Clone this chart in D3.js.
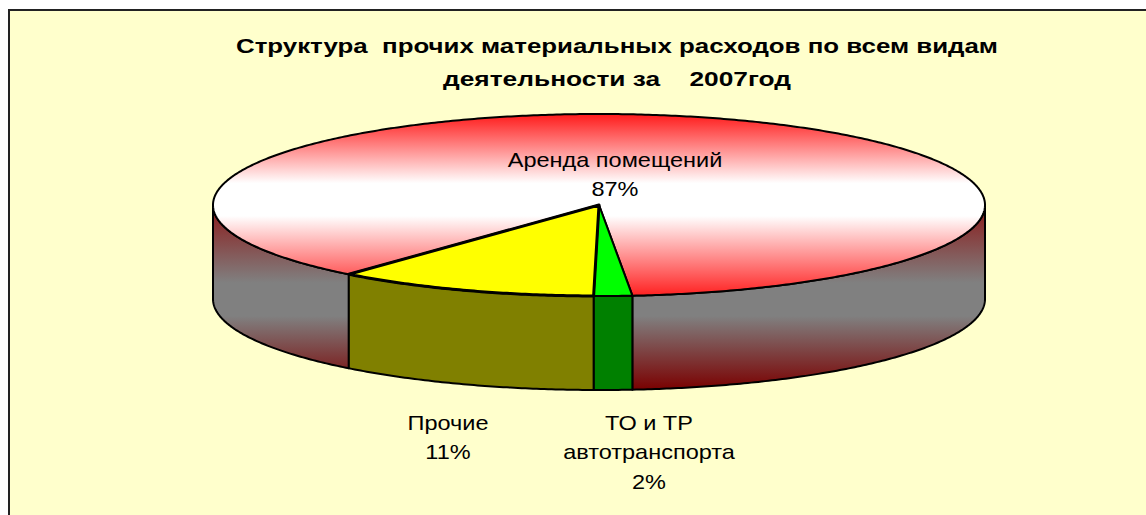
<!DOCTYPE html>
<html>
<head>
<meta charset="utf-8">
<script src="https://cdn.jsdelivr.net/npm/d3@7"></script>
<style>
  html, body { margin: 0; padding: 0; background: #fff; }
  svg { display: block; }
</style>
</head>
<body>
<script>
// data (shares; labels show rounded percents)
var categories = ["Аренда помещений", "ТО и ТР автотранспорта", "Прочие"];
var shares = [87.4, 1.6, 11.0];
var labelLines = [["Аренда помещений"], ["ТО и ТР", "автотранспорта"], ["Прочие"]];
var titleLines = ["Структура  прочих материальных расходов по всем видам", "деятельности за    2007год"];

var w = 1146, h = 515;
var cx = 599, cy = 205, rx = 386, ry = 91, depth = 94;

var svg = d3.select("body").append("svg")
  .attr("width", w).attr("height", h);

var defs = svg.append("defs");

var topGrad = defs.append("linearGradient")
  .attr("id", "redTop")
  .attr("gradientUnits", "userSpaceOnUse")
  .attr("x1", 0).attr("x2", 0)
  .attr("y1", cy - ry).attr("y2", cy + ry);
[[0, "#ff1a1a"], [0.38, "#ffffff"], [0.56, "#ffffff"], [1, "#ff2020"]].forEach(function (s) {
  topGrad.append("stop").attr("offset", s[0]).attr("stop-color", s[1]);
});

var sideGrad = defs.append("linearGradient")
  .attr("id", "redSide")
  .attr("gradientUnits", "userSpaceOnUse")
  .attr("x1", 0).attr("x2", 0)
  .attr("y1", cy).attr("y2", cy + ry + depth);
[[0, "#8b1818"], [0.42, "#808080"], [0.6, "#808080"], [1, "#7a0000"]].forEach(function (s) {
  sideGrad.append("stop").attr("offset", s[0]).attr("stop-color", s[1]);
});

// frame
svg.append("rect")
  .attr("x", 9).attr("y", 10)
  .attr("width", w + 20).attr("height", h + 20)
  .attr("fill", "#ffffcc")
  .attr("stroke", "#222").attr("stroke-width", 2);

var topColors = ["url(#redTop)", "#00ff00", "#ffff00"];
var sideColors = ["url(#redSide)", "#008000", "#808000"];

var xs = d3.scaleLinear().domain([-1, 1]).range([cx - rx, cx + rx]);
var ys = d3.scaleLinear().domain([-1, 1]).range([cy + ry, cy - ry]);

function pt(a, off) { return [xs(Math.sin(a)), ys(Math.cos(a)) + (off || 0)]; }

function arcPts(a0, a1, off) {
  var n = Math.max(2, Math.ceil(Math.abs(a1 - a0) / 0.01));
  var out = [];
  for (var i = 0; i <= n; i++) out.push(pt(a0 + (a1 - a0) * i / n, off));
  return out;
}

var start = 220.4 * Math.PI / 180;
var pie = d3.pie().sort(null).value(function (d) { return d; })
  .startAngle(start).endAngle(start + 2 * Math.PI);
var arcs = pie(shares);

var line = d3.line();

// side walls (front half only)
var gSide = svg.append("g");
arcs.forEach(function (d, i) {
  [0, 1].forEach(function (k) {
    var lo = Math.PI / 2 + 2 * Math.PI * k, hi = 3 * Math.PI / 2 + 2 * Math.PI * k;
    var a0 = Math.max(d.startAngle, lo), a1 = Math.min(d.endAngle, hi);
    if (a1 <= a0) return;
    var p = arcPts(a0, a1, 0).concat(arcPts(a1, a0, depth));
    gSide.append("path")
      .attr("d", line(p) + "Z")
      .attr("fill", sideColors[i])
      .attr("stroke", "#000").attr("stroke-width", 2)
      .attr("stroke-linejoin", "round");
  });
});

// top faces
var gTop = svg.append("g");
arcs.forEach(function (d, i) {
  var p = [[cx, cy]].concat(arcPts(d.startAngle, d.endAngle, 0));
  gTop.append("path")
    .attr("d", line(p) + "Z")
    .attr("fill", topColors[i])
    .attr("stroke", "#000").attr("stroke-width", i == 2 ? 3 : 2)
    .attr("stroke-linejoin", "round");
});

// title
var title = svg.append("g")
  .style("font-family", "'Liberation Sans', Arial, sans-serif")
  .style("font-weight", "bold").style("font-size", "21px");
var titleW = [762, 348];
titleLines.forEach(function (t, i) {
  title.append("text")
    .attr("x", 617).attr("y", 53 + i * 33)
    .attr("text-anchor", "middle")
    .style("white-space", "pre")
    .attr("textLength", titleW[i]).attr("lengthAdjust", "spacingAndGlyphs")
    .text(t);
});

// data labels (slightly widened like the original rendering)
var labelAt = [[615, 167], [649, 430], [448, 430]];
var lab = svg.append("g")
  .style("font-family", "'Liberation Sans', Arial, sans-serif")
  .style("font-size", "21px");
arcs.forEach(function (d, i) {
  var lines = labelLines[i].concat([Math.round(d.data) + "%"]);
  var g = lab.append("g")
    .attr("transform", "translate(" + labelAt[i][0] + "," + labelAt[i][1] + ") scale(1.12,1)");
  lines.forEach(function (t, j) {
    g.append("text")
      .attr("x", 0).attr("y", j * 29.5)
      .attr("text-anchor", "middle")
      .text(t);
  });
});
</script>
</body>
</html>
